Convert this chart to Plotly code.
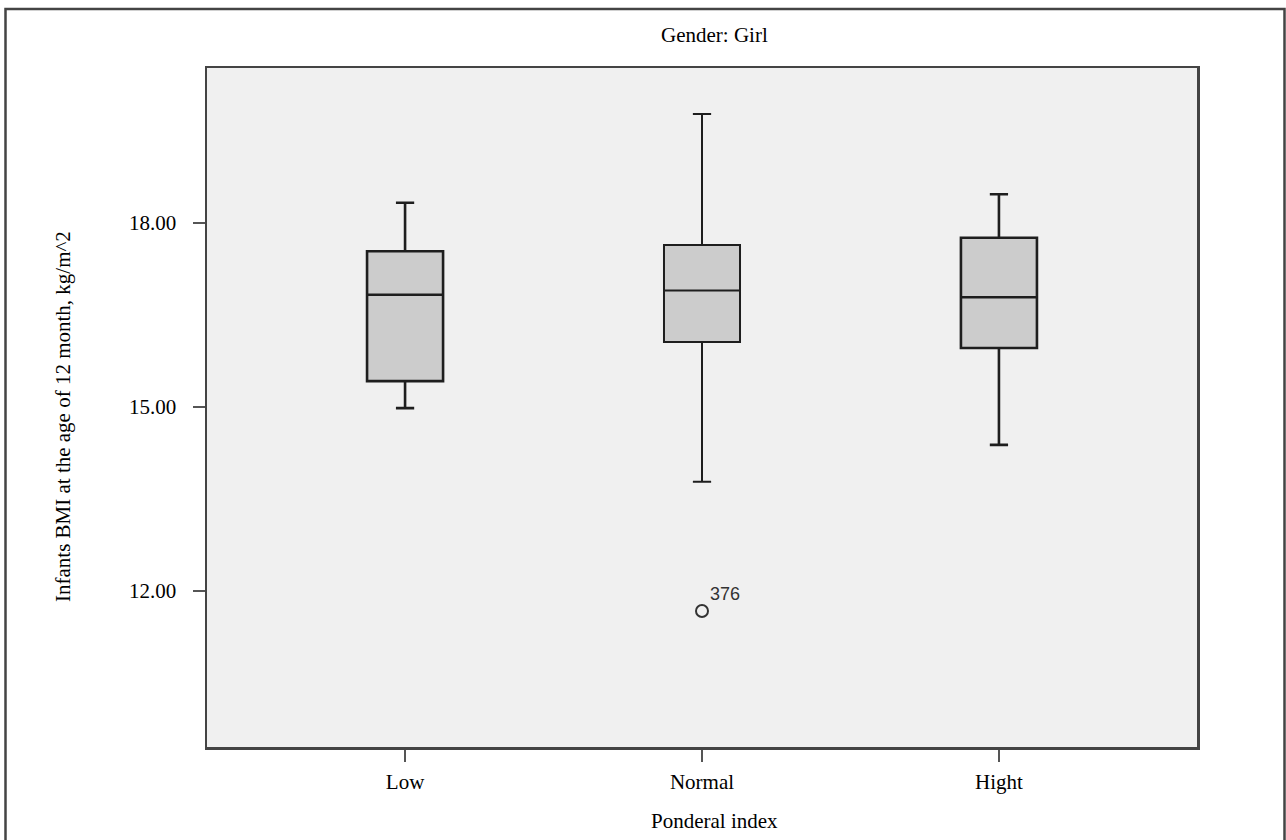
import plotly.graph_objects as go

# ---- data ----
categories = ["Low", "Normal", "Hight"]
lower_whisker = [14.98, 13.78, 14.38]
q1_values = [15.42, 16.06, 15.96]
medians = [16.83, 16.90, 16.79]
q3_values = [17.54, 17.64, 17.76]
upper_whisker = [18.33, 19.78, 18.47]

outlier_category = ["Normal"]
outlier_value = [11.67]
outlier_label = ["376"]

y_ticks = [12, 15, 18]
y_tick_text = ["12.00", "15.00", "18.00"]

# ---- layout geometry (pixels) ----
W, H = 1286, 840
L, R, T, B = 207, 1197, 68, 747  # plot area
pw, ph = R - L, B - T

def px_x(x):
    return (x - L) / pw

def px_y(y):
    return (B - y) / ph

serif = "Liberation Serif, Times New Roman, serif"
sans = "Liberation Sans, Arial, sans-serif"

line_widths = [2.6, 2.0, 2.6]

fig = go.Figure()

for i, c in enumerate(categories):
    fig.add_trace(go.Box(
        x=[c],
        q1=[q1_values[i]],
        median=[medians[i]],
        q3=[q3_values[i]],
        lowerfence=[lower_whisker[i]],
        upperfence=[upper_whisker[i]],
        fillcolor="#cccccc",
        line=dict(color="#1e1e1e", width=line_widths[i]),
        whiskerwidth=0.24,
        width=0.256,
        boxpoints=False,
        showlegend=False,
        hoverinfo="skip",
    ))

fig.add_trace(go.Scatter(
    x=outlier_category,
    y=outlier_value,
    mode="markers",
    marker=dict(symbol="circle-open", size=12, color="#333333", line=dict(width=2, color="#333333")),
    showlegend=False,
    hoverinfo="skip",
))

for c, v, t in zip(outlier_category, outlier_value, outlier_label):
    fig.add_annotation(
        x=c, y=v, text=t, showarrow=False,
        xanchor="left", yanchor="middle", xshift=6, yshift=17,
        font=dict(family=sans, size=18, color="#333333"),
    )

# titles
fig.add_annotation(
    xref="paper", yref="paper", x=px_x(714), y=px_y(35),
    text="Gender: Girl", showarrow=False, xanchor="center", yanchor="middle",
    font=dict(family=serif, size=21, color="#000000"),
)
fig.add_annotation(
    xref="paper", yref="paper", x=px_x(714), y=px_y(821),
    text="Ponderal index", showarrow=False, xanchor="center", yanchor="middle",
    font=dict(family=serif, size=21, color="#000000"),
)
fig.add_annotation(
    xref="paper", yref="paper", x=px_x(63), y=px_y(417),
    text="Infants BMI at the age of 12 month, kg/m^2", showarrow=False,
    textangle=-90, xanchor="center", yanchor="middle",
    font=dict(family=serif, size=21, color="#000000"),
)

# outer frame
fig.add_shape(
    type="rect", xref="paper", yref="paper",
    x0=px_x(5.5), x1=px_x(1284.5), y0=px_y(880), y1=px_y(9),
    line=dict(color="#444444", width=2.5), fillcolor="rgba(0,0,0,0)", layer="below",
)

fig.update_layout(
    width=W, height=H,
    margin=dict(l=L, r=W - R, t=T, b=H - B, pad=0),
    paper_bgcolor="#ffffff",
    plot_bgcolor="#f0f0f0",
    boxmode="overlay",
    showlegend=False,
    font=dict(family=serif, size=21, color="#000000"),
)

fig.update_xaxes(
    type="category",
    categoryorder="array", categoryarray=categories,
    range=[-0.667, 2.667],
    showline=True, linecolor="#444444", linewidth=2.5, mirror=True,
    ticks="outside", ticklen=12, tickwidth=2, tickcolor="#555555",
    showgrid=False, zeroline=False,
    tickfont=dict(family=serif, size=21, color="#000000"),
    ticklabelstandoff=2,
)
fig.update_yaxes(
    range=[9.45, 20.53],
    tickvals=y_ticks, ticktext=y_tick_text,
    showline=True, linecolor="#444444", linewidth=2.5, mirror=True,
    ticks="outside", ticklen=12, tickwidth=2, tickcolor="#555555",
    showgrid=False, zeroline=False,
    tickfont=dict(family=serif, size=21, color="#000000"),
    ticklabelstandoff=12,
)

fig.write_html(
    "out.html",
    config={"displayModeBar": False, "staticPlot": True},
    post_script="document.body.style.margin='0px'; document.body.style.overflow='hidden';",
)
